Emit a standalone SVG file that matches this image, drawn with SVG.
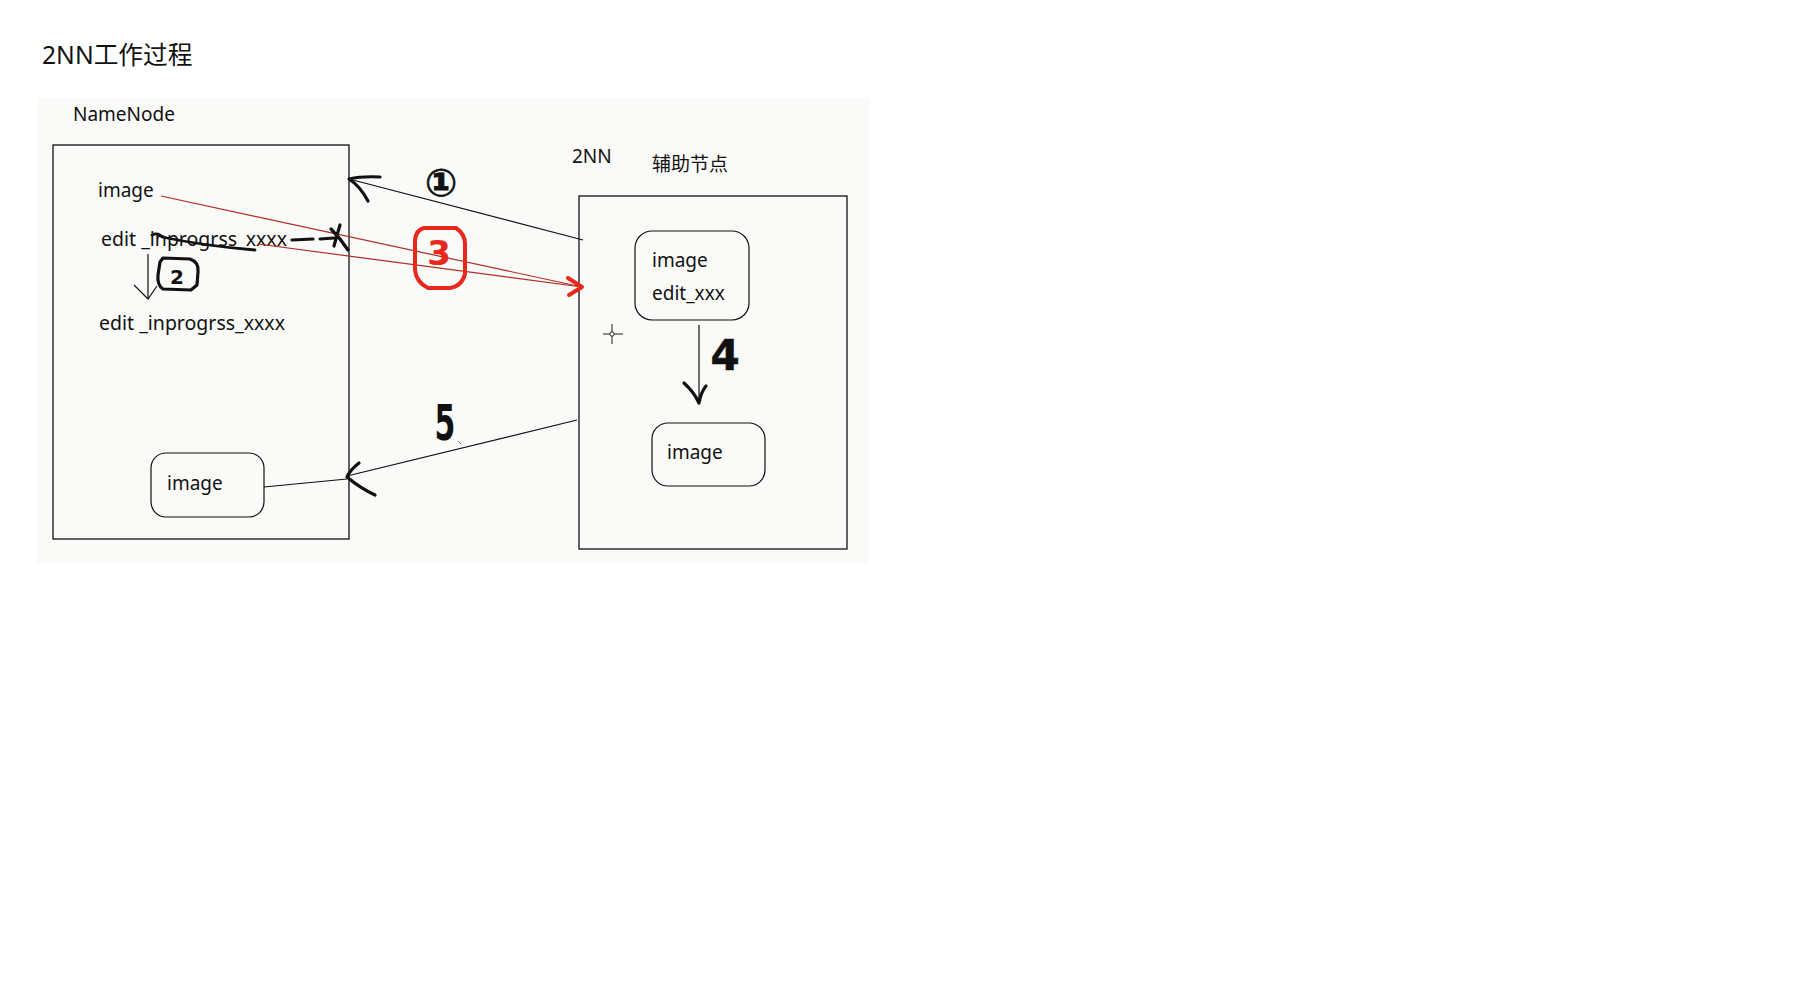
<svg xmlns="http://www.w3.org/2000/svg" width="1800" height="1000" viewBox="0 0 1800 1000">
<style>
  .t { font-family: "Noto Sans", "Noto Sans CJK SC", sans-serif; font-size: 19px; fill: #111; }
  .box { fill: none; stroke: #111; stroke-width: 1.3; }
  .rbox { fill: none; stroke: #111; stroke-width: 1.2; }
  .ln { fill: none; stroke: #111; stroke-width: 1.2; }
  .red { fill: none; stroke: #b22a22; stroke-width: 1.2; }
  .hand { fill: none; stroke: #111; stroke-width: 3.2; stroke-linecap: round; stroke-linejoin: round; }
  .handred { fill: none; stroke: #e8281c; stroke-width: 4; stroke-linecap: round; stroke-linejoin: round; }
  .num { font-family: "DejaVu Sans", "Noto Sans CJK SC", sans-serif; font-weight: bold; fill: #111; }
</style>
<rect width="1800" height="1000" fill="#ffffff"/>
<g id="title"><text class="t" x="42" y="64" style="font-size:24.7px">2NN工作过程</text></g>
<g id="panel"><rect x="37" y="98" width="832" height="465" fill="#fafaf8"/></g>

<g id="namenode">
  <text class="t" x="73" y="121">NameNode</text>
  <rect class="box" x="53" y="145" width="296" height="394"/>
  <text class="t" x="98" y="197">image</text>
  <text class="t" x="101" y="246" textLength="186" lengthAdjust="spacingAndGlyphs">edit _inprogrss_xxxx</text>
  <text class="t" x="99" y="330" textLength="186" lengthAdjust="spacingAndGlyphs">edit _inprogrss_xxxx</text>
</g>
<g id="nn-image">
  <rect class="rbox" x="151" y="453" width="113" height="64" rx="15"/>
  <text class="t" x="167" y="490">image</text>
</g>

<g id="secondary">
  <text class="t" x="572" y="163">2NN</text>
  <text class="t" x="652" y="171">辅助节点</text>
  <rect class="box" x="579" y="196" width="268" height="353"/>
</g>
<g id="snn-merge">
  <rect class="rbox" x="635" y="231" width="114" height="89" rx="17"/>
  <text class="t" x="652" y="267">image</text>
  <text class="t" x="652" y="300">edit_xxx</text>
</g>
<g id="snn-image">
  <rect class="rbox" x="652" y="423" width="113" height="63" rx="16"/>
  <text class="t" x="667" y="459">image</text>
</g>

<g id="connectors">
  <!-- step 1 -->
  <line class="ln" x1="583" y1="240" x2="349" y2="179"/>
  <path class="hand" d="M349,179 Q362,176 380,177 M349,179 Q360,186 368,201"/>
  <!-- step 2 -->
  <line class="ln" x1="148" y1="254" x2="148" y2="299"/>
  <path class="ln" d="M134,285 L148,299 L157,286"/>
  <!-- step 3 -->
  <line class="red" x1="161" y1="196" x2="582" y2="287"/>
  <line class="red" x1="258" y1="244" x2="582" y2="287"/>
  <path class="handred" d="M568,278 L582,287 L569,295"/>
  <!-- step 4 -->
  <line class="ln" x1="699" y1="325" x2="699" y2="403"/>
  <path class="hand" d="M684,383 Q694,392 699,403 Q701,392 706,386"/>
  <!-- step 5 -->
  <line class="ln" x1="577" y1="420" x2="347" y2="476"/>
  <line class="ln" x1="264" y1="487" x2="347" y2="479"/>
  <path class="hand" d="M359,463 Q350,470 347,477 Q360,488 375,495"/>
</g>

<g id="annotations">
  <!-- strike through & marks -->
  <path class="hand" d="M152,235 Q158,232 162,237 Q205,246 255,250" style="stroke-width:2.8"/>
  <path class="hand" d="M292,240 L313,239"/>
  <path class="hand" d="M331,229 Q340,238 348,250 M334,246 Q337,235 340,225 M320,239 L334,238"/>
  <!-- 1 -->
  <text class="num" x="441" y="196" text-anchor="middle" style="font-size:38px;stroke:#111;stroke-width:0.8">①</text>
  <!-- 2 -->
  <path class="hand" d="M160,262 L163,258 L190,259 Q199,262 198,272 L197,285 L191,290 L163,289 Q157,285 158,275 Z"/>
  <text class="num" x="177" y="284" text-anchor="middle" style="font-size:20px">2</text>
  <!-- 3 -->
  <path class="handred" d="M424,228 L456,228 Q465,234 465,244 L465,274 Q462,286 450,288 L428,288 Q416,282 415,270 L415,240 Q416,230 424,228 Z"/>
  <text x="439" y="265" text-anchor="middle" style="font-family:'DejaVu Sans',sans-serif;font-size:34px;font-weight:bold;fill:#e8281c">3</text>
  <!-- 4 -->
  <text class="num" x="725" y="370" text-anchor="middle" style="font-size:42px;stroke:#111;stroke-width:0.6">4</text>
  <!-- 5 -->
  <text class="num" x="445" y="440" text-anchor="middle" transform="translate(445 0) scale(0.6 1) translate(-445 0)" style="font-size:50px">5</text>
  <line x1="458" y1="441" x2="461" y2="444" stroke="#777" stroke-width="1"/>
  <!-- cursor -->
  <g id="cursor" stroke="#222" stroke-width="1" fill="none">
    <line x1="603" y1="334" x2="623" y2="334"/>
    <line x1="612" y1="324" x2="612" y2="344"/>
    <circle cx="612" cy="334" r="2.2" fill="#fafaf8"/>
  </g>
</g>
</svg>
